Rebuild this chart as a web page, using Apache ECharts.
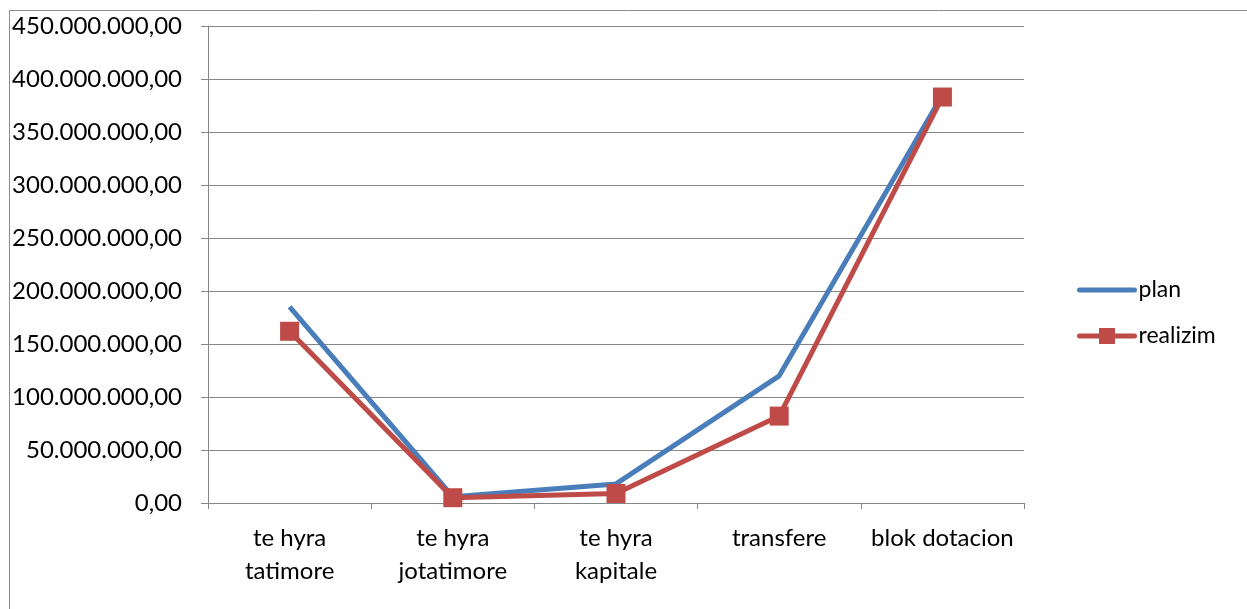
<!DOCTYPE html>
<html><head><meta charset="utf-8">
<script src="https://cdn.jsdelivr.net/npm/echarts@6/dist/echarts.min.js"></script>
<style>html,body{margin:0;padding:0;background:#fff;}#c{width:1247px;height:609px;}</style>
</head><body><div id="c"></div>
<script>
var categories = ['te hyra\ntatimore', 'te hyra\njotatimore', 'te hyra\nkapitale', 'transfere', 'blok dotacion'];
var planValues = [185000000, 6000000, 18000000, 120000000, 385000000];
var realizimValues = [162000000, 5000000, 9000000, 82000000, 383000000];
var seriesNames = ['plan', 'realizim'];

function fmt(v) {
  var s = Math.round(v).toString().replace(/\B(?=(\d{3})+(?!\d))/g, '.');
  return s + ',00';
}
var FONT = 'Lato';
var chart = echarts.init(document.getElementById('c'));
chart.setOption({
  animation: false,
  backgroundColor: '#fff',
  graphic: [{type: 'rect', shape: {x: 9.5, y: 10.5, width: 1300, height: 700}, style: {fill: 'none', stroke: '#8c8c8c', lineWidth: 1}, silent: true}],
  grid: {left: 208, right: 223, top: 26, bottom: 106, containLabel: false},
  legend: {
    orient: 'vertical', left: 1077, top: 278, padding: 0, itemGap: 22, itemWidth: 55, itemHeight: 20,
    textStyle: {fontFamily: FONT, fontSize: 23, lineHeight: 24, color: '#000', padding: [0, 0, 0, -1]},
    data: [
      {name: seriesNames[0], itemStyle: {opacity: 0}, lineStyle: {width: 5, cap: 'round', color: '#4A7EBB'}},
      {name: seriesNames[1], lineStyle: {width: 5, cap: 'round', color: '#BE4B48'}}
    ]
  },
  xAxis: {
    type: 'category', data: categories, boundaryGap: true,
    axisLine: {lineStyle: {color: '#868686', width: 1}},
    axisTick: {show: true, length: 6, lineStyle: {color: '#868686'}},
    axisLabel: {fontFamily: FONT, fontSize: 24, color: '#000', margin: 19, lineHeight: 33, interval: 0}
  },
  yAxis: {
    type: 'value', min: 0, max: 450000000, interval: 50000000,
    axisLine: {show: true, lineStyle: {color: '#868686', width: 1}},
    axisTick: {show: true, length: 7, lineStyle: {color: '#868686'}},
    splitLine: {lineStyle: {color: '#868686', width: 1}},
    axisLabel: {fontFamily: FONT, fontSize: 24, color: '#000', margin: 26, formatter: fmt}
  },
  series: [
    {name: seriesNames[0], type: 'line', data: planValues, symbol: 'none', lineStyle: {color: '#4A7EBB', width: 5}, itemStyle: {color: '#4A7EBB'}},
    {name: seriesNames[1], type: 'line', data: realizimValues, symbol: 'rect', symbolSize: 19, lineStyle: {color: '#BE4B48', width: 5}, itemStyle: {color: '#BE4B48'}}
  ]
});
</script></body></html>
